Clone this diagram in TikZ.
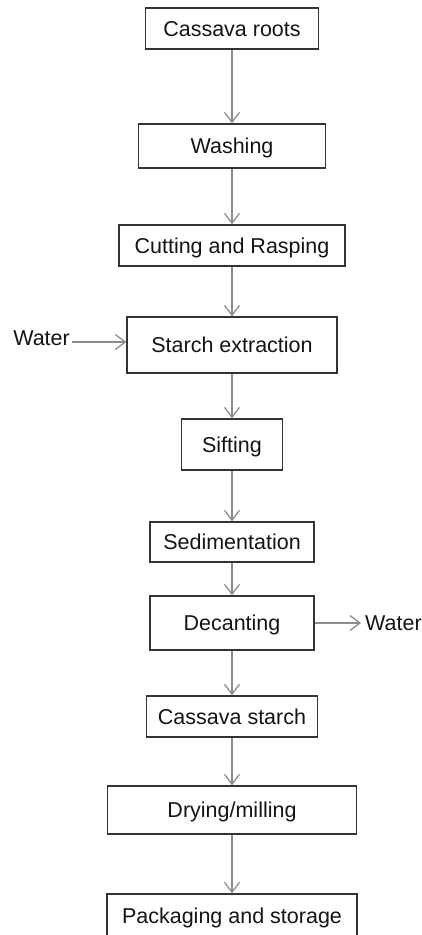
\documentclass[tikz,border=0pt]{standalone}
\usepackage{fontspec}
\setmainfont{Liberation Sans}
\usetikzlibrary{arrows.meta}
\begin{document}
\begin{tikzpicture}[x=1pt,y=-1pt,font=\fontsize{21.5}{25}\selectfont,
	stage/.style={draw=black!80,line width=1.2pt,inner sep=0pt,text=black!92,text height=15pt,text depth=0pt},
	water/.style={inner sep=0pt,text=black!92,text height=15pt,text depth=0pt},
	flow/.style={draw=black!45,line width=1.3pt,-{Straight Barb[length=10pt,width=15pt]}}]
	\useasboundingbox(0,0)rectangle(422,935);
	\foreach \i/\y/\w/\h/\t in{1/28.5/173/41/Cassava roots,2/146/187/44/Washing,3/245.5/226/41/Cutting and Rasping,4/345/210/56/Starch extraction,5/444.5/101/51/Sifting,6/542/164/40/Sedimentation,7/623/164/54/Decanting,8/716.5/171/41/Cassava starch,9/810/249/48/{Drying/milling},10/916/250/44/Packaging and storage}{
		\node[stage,minimum width=\w pt,minimum height=\h pt](b\i)at(232,\y){\t};
	}
	\foreach \i[count=\j from 2] in{1,...,9}{
		\draw[flow](b\i)--(b\j);
	}
	\node[water,anchor=east](win)at(70,338){Water};
	\draw[flow]([xshift=2pt,yshift=-4pt]win.east)--([yshift=-4pt]win.east-|b4.west);
	\node[water,anchor=west](wout)at(365,623){Water};
	\draw[flow](b7)--([xshift=-4pt]wout.west);
\end{tikzpicture}
\end{document}
